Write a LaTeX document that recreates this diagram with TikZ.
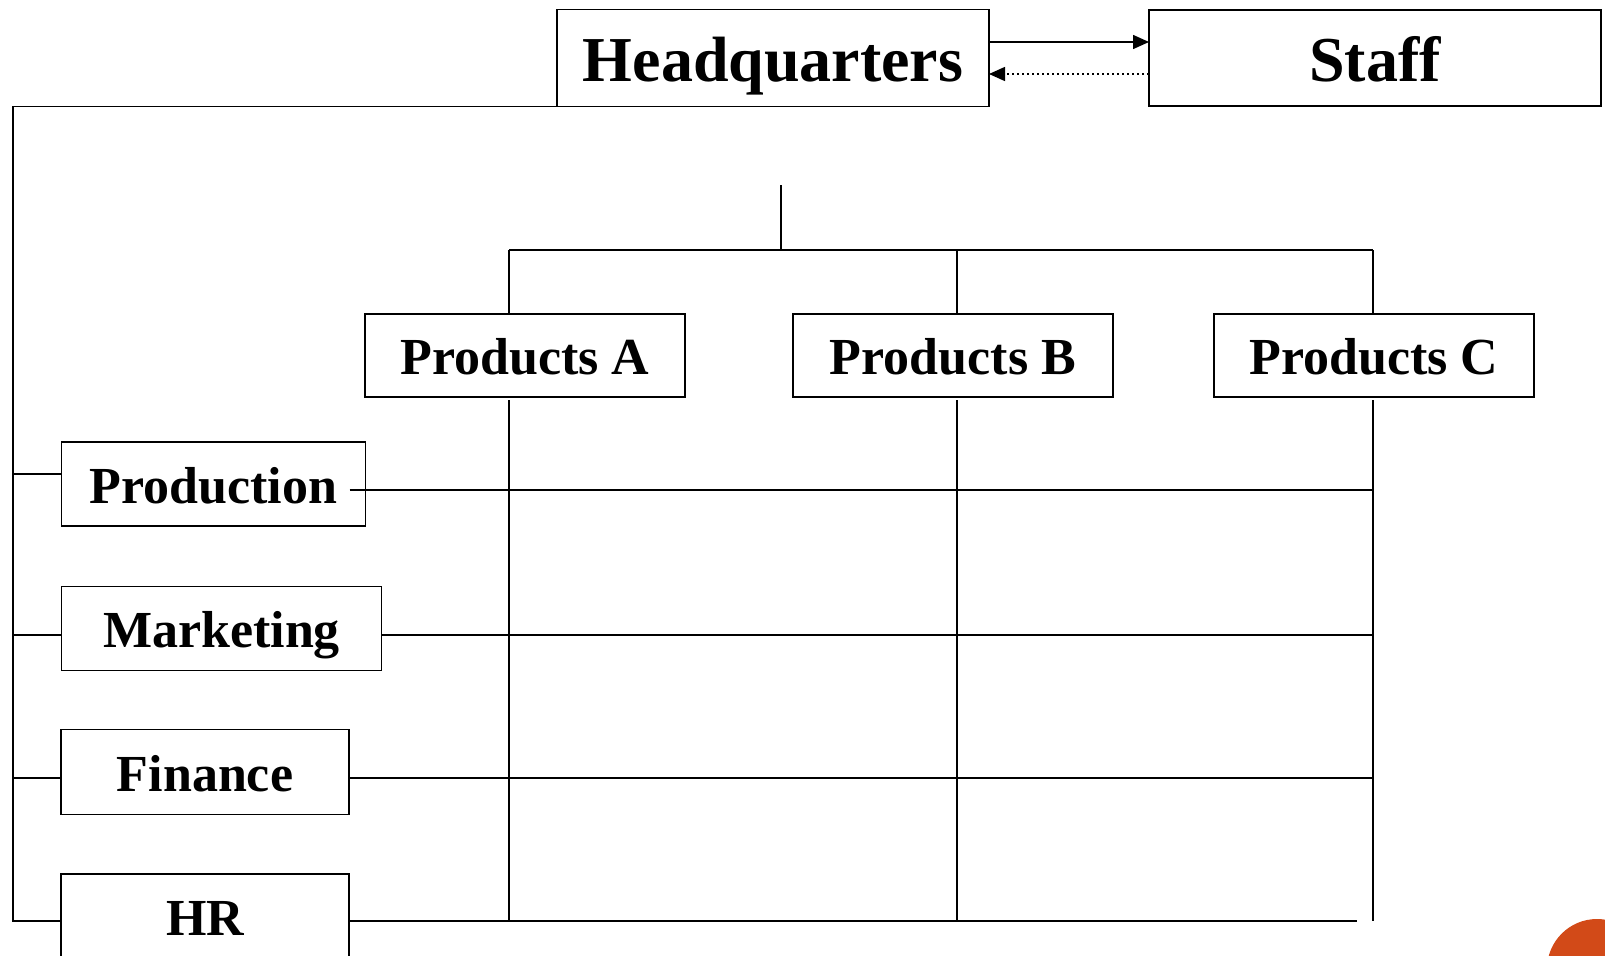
\documentclass[tikz,border=0pt]{standalone}
\usepackage{fontspec}
\setmainfont{Liberation Serif}
\usetikzlibrary{arrows.meta}
\definecolor{accent}{HTML}{D24A18}
\begin{document}
\begin{tikzpicture}[x=1pt,y=-1pt,
  box/.style={draw, rectangle, line width=1.5pt, inner sep=0pt, outer sep=0pt, text depth=0pt},
  bigbox/.style={box, font=\fontsize{64}{70}\selectfont\bfseries, text height=48pt},
  unit/.style={box, font=\fontsize{52}{58}\selectfont\bfseries, text height=38pt},
  link/.style={line width=1.5pt},
  tip/.style={-{Triangle[length=16pt,width=14pt]}}]
\useasboundingbox (0,0) rectangle (1605,955);

% top level
\node[bigbox, minimum width=432pt, minimum height=97pt] (hq) at (773,58) {Headquarters};
\node[bigbox, minimum width=452pt, minimum height=96pt] (staff) at (1375,58) {Staff};

% product divisions
\node[unit, minimum width=320pt, minimum height=83pt] (pa) at (525,355.5) {Products A};
\node[unit, minimum width=320pt, minimum height=83pt] (pb) at (953,355.5) {Products B};
\node[unit, minimum width=320pt, minimum height=83pt] (pc) at (1374,355.5) {Products C};

% functions
\node[unit, minimum width=304pt, minimum height=84pt] (prod) at (213.5,484) {Production};
\node[unit, minimum width=320pt, minimum height=84pt] (mkt) at (221.5,628.5) {Marketing};
\node[unit, minimum width=288pt, minimum height=85pt] (fin) at (205,772) {Finance};
\node[unit, minimum width=288pt, minimum height=84pt] (hr) at (205,916) {HR};

% column and row positions of the grid
\coordinate (colA) at (509,0);
\coordinate (colB) at (957,0);
\coordinate (colC) at (1373,0);
\coordinate (rail) at (13,0);
\coordinate (stub) at (781,185);
\coordinate (bus) at (0,250);
\coordinate (rowP) at (0,490);
\coordinate (rowM) at (0,635);
\coordinate (rowF) at (0,778);
\coordinate (rowH) at (0,921);
\coordinate (hrEnd) at (1357,921);

% headquarters and staff
\draw[link, tip] (hq.east |- 0,42) -- (staff.west |- 0,42);
\draw[link, tip, dash pattern=on 2pt off 3pt] (staff.west |- 0,74) -- (hq.east |- 0,74);

% bus to the product divisions
\draw[link] (stub) -- (stub |- bus);
\draw[link] (colA |- bus) -- (colC |- bus);
\draw[link] (colA |- bus) -- (colA |- pa.north);
\draw[link] (colB |- bus) -- (colB |- pb.north);
\draw[link] (colC |- bus) -- (colC |- pc.north);

% left rail from headquarters to the functions
\draw[link] (hq.south west) -- (rail |- hq.south west) -- (rail |- rowH) -- (hr.west |- rowH);
\draw[link] (rail |- 0,474) -- (prod.west |- 0,474);
\draw[link] (rail |- rowM) -- (mkt.west |- rowM);
\draw[link] (rail |- rowF) -- (fin.west |- rowF);

% grid columns
\draw[link] ([yshift=-3pt]colA |- pa.south) -- (colA |- rowH);
\draw[link] ([yshift=-3pt]colB |- pb.south) -- (colB |- rowH);
\draw[link] ([yshift=-3pt]colC |- pc.south) -- (colC |- rowH);

% grid rows
\draw[link] ([xshift=-16pt]prod.east |- rowP) -- (colC |- rowP);
\draw[link] (mkt.east |- rowM) -- (colC |- rowM);
\draw[link] (fin.east |- rowF) -- (colC |- rowF);
\draw[link] (hr.east |- rowH) -- (hrEnd);

% corner mark
\fill[accent] (1597,969) circle (50);
\end{tikzpicture}
\end{document}
